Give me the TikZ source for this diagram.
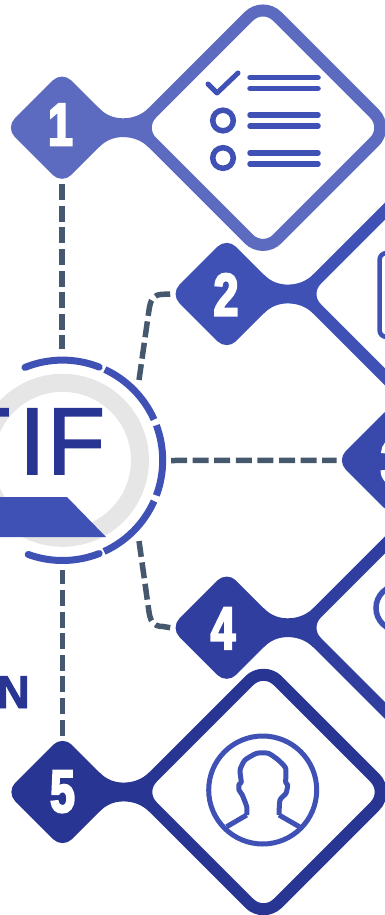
\documentclass[tikz,border=0pt]{standalone}
\usepackage{fontspec}
\setmainfont{Liberation Sans}
\newfontfamily\numfont{Liberation Sans}[UprightFont=* Bold,FakeStretch=0.74,FakeBold=3.5]
\newfontfamily\boldfont{Liberation Sans}[UprightFont=* Bold,FakeBold=2]
\newfontfamily\titlefont{Liberation Sans}[FakeBold=1.6]
\usetikzlibrary{shapes.geometric}
\pgfdeclarelayer{back}
\pgfsetlayers{back,main}
\definecolor{cA}{HTML}{5C6BC0}
\definecolor{cB}{HTML}{3F51B5}
\definecolor{cC}{HTML}{3949AB}
\definecolor{cD}{HTML}{303F9F}
\definecolor{cE}{HTML}{283593}
\definecolor{dashc}{HTML}{46586E}
\definecolor{ringgray}{HTML}{E6E6E6}
\tikzset{
  smalldia/.style={diamond,aspect=1,draw=none,inner sep=0pt,outer sep=0pt,minimum width=113pt,minimum height=113pt,rounded corners=13pt},
  bigdia/.style={diamond,aspect=1,fill=white,line width=12pt,inner sep=0pt,outer sep=0pt,minimum width=251pt,minimum height=251pt,rounded corners=20pt},
  numtext/.style={text=white,inner sep=0pt,font=\numfont\fontsize{60}{60}\selectfont},
  dashline/.style={draw=dashc,line width=5.5pt,dash pattern=on 16pt off 5.6pt},
  ringarc/.style={draw=cB,line width=7pt},
  iconline/.style={draw=cB,line width=5.5pt,line cap=round},
  iconthin/.style={draw=cB,line width=5pt,line join=round}
}
\newcommand{\unitgroup}[7]{%
  \node[smalldia,fill=#4] (d#1) at (#2,#3) {};
  \fill[#4] ([shift={(37,-19.5)}]d#1.center)
    .. controls ([shift={(43.7,-12.8)}]d#1.center) and ([shift={(51.5,-9.4)}]d#1.center) .. ([shift={(61,-9.4)}]d#1.center)
    .. controls ([shift={(71,-9.4)}]d#1.center) and ([shift={(79.9,-12.9)}]d#1.center) .. ([shift={(86.7,-19.7)}]d#1.center)
    -- ([shift={(86.7,19.7)}]d#1.center)
    .. controls ([shift={(79.9,12.9)}]d#1.center) and ([shift={(71,9.4)}]d#1.center) .. ([shift={(61,9.4)}]d#1.center)
    .. controls ([shift={(51.5,9.4)}]d#1.center) and ([shift={(43.7,12.8)}]d#1.center) .. ([shift={(37,19.5)}]d#1.center)
    -- cycle;
  \node[bigdia,draw=#4] (b#1) at ([shift={(201,0)}]d#1.center) {};
  \node[numtext] (t#1) at (#6,#7) {#5};
}
\begin{document}
\begin{tikzpicture}[x=1pt,y=-1pt]
\useasboundingbox (0,0) rectangle (385,915);
% units
\unitgroup{5}{62.5}{792}{cE}{5}{62.5}{791.7}
\unitgroup{4}{226.7}{627.7}{cD}{4}{223}{628.3}
\unitgroup{2}{226.7}{294}{cB}{2}{226}{294.5}
\unitgroup{1}{62}{127.7}{cA}{1}{60.5}{124.6}
\node[smalldia,fill=cC] (d3) at (393,460.3) {};
\node[numtext] (t3) at (393,462) {3};
% central badge
\coordinate (ring) at (62.5,460.3);
\draw[draw=ringgray,line width=18pt] (ring) circle[radius=77.5];
\node[anchor=base west,inner sep=0pt,text=cE,font=\titlefont\fontsize{95}{95}\selectfont] (title) at (-48,474) {T\kern9pt I\kern1.5pt F};
\fill[cB] (0,497) -- (67,497) -- (106,537) -- (0,537) -- cycle;
\draw[ringarc,line cap=round] (ring) ++(-112:100.2) arc[start angle=-112,end angle=-90,radius=100.2] arc[start angle=-90,end angle=-68.5,radius=100.2];
\draw[ringarc] (ring) ++(-65:100.2) arc[start angle=-65,end angle=-24,radius=100.2];
\draw[ringarc] (ring) ++(-20.5:100.2) arc[start angle=-20.5,end angle=20.5,radius=100.2];
\draw[ringarc] (ring) ++(24:100.2) arc[start angle=24,end angle=65.5,radius=100.2];
\draw[ringarc,line cap=round] (ring) ++(110:100.2) arc[start angle=110,end angle=68.5,radius=100.2];
\node[anchor=base east,inner sep=0pt,text=cE,font=\boldfont\fontsize{46}{46}\selectfont] (nletter) at (30,708) {N};
% connector ends on the ring
\coordinate (ringT) at (62,349.3);
\coordinate (ringB) at (62.5,570);
\coordinate (ringR) at (171,460.5);
\coordinate (ringUR) at (139,380);
\coordinate (ringLR) at (139,541);
\begin{pgfonlayer}{back}
\draw[dashline] (d1.south) -- (ringT);
\draw[dashline] (d5.north) -- (ringB);
\draw[dashline] (ringR) -- (d3.west);
\draw[dashline] (ringUR) -- (149,310) .. controls (150.5,300) and (153,294.3) .. (163,294.3) -- (d2.west);
\draw[dashline] (ringLR) -- (149,612) .. controls (150.5,621) and (153,626.5) .. (163,626.5) -- (d4.west);
\end{pgfonlayer}
% icon 1: checklist
\draw[iconline,line join=round,line width=5pt] (208,84) -- (217,93) -- (238,73);
\foreach \ya in {77.5,88.5,115,126,153,164} {\draw[iconline] (250,\ya) -- (318,\ya);}
\draw[draw=cB,line width=5.5pt] (223,120.5) circle[radius=10.3];
\draw[draw=cB,line width=5.5pt] (223,158) circle[radius=10.3];
% icon 2: rounded frame
\draw[draw=cB,line width=4.5pt,rounded corners=7pt] (400,253) -- (379.5,253) -- (379.5,337) -- (400,337);
% icon 4: circle
\draw[draw=cB,line width=5.5pt] (398.5,608) circle[radius=22.5];
% icon 5: person
\draw[iconthin] (262.7,790) circle[radius=54];
\draw[iconthin] plot[smooth,tension=0.35] coordinates {(246.7,815) (246.7,806.7) (242.3,795) (239,790) (239,784.3) (241.3,782.3) (240,770) (245,760) (256.7,753.3) (268.3,753.3) (278.3,760) (285.7,768.3) (285.7,782.3) (287.7,785) (286,793.3) (280,800) (279,815)};
\draw[iconthin] (226.7,826.7) -- (246.7,815);
\draw[iconthin] (279,815) -- (299.3,826.7);
\end{tikzpicture}
\end{document}
